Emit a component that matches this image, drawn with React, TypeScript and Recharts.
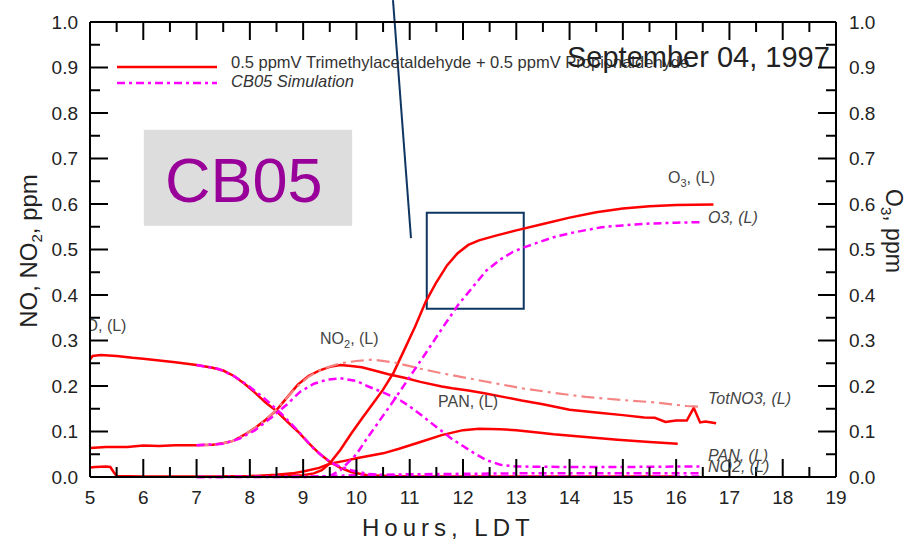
import React from 'react';
import { LineChart, Line, XAxis, YAxis, ReferenceArea, ReferenceLine } from 'recharts';

type Pt = [number, number];

// ---- Measured (red, solid) ----
const O3_MEAS: Pt[] = [
  [5, 0.021], [5.1, 0.022], [5.3, 0.023], [5.38, 0.022], [5.45, 0.01], [5.5, 0.002], [6, 0.001], [7, 0.001],
  [8, 0.001], [8.5, 0.002], [9, 0.004], [9.2, 0.008], [9.35, 0.015], [9.5, 0.03], [9.7, 0.06], [9.9, 0.095],
  [10.1, 0.128], [10.3, 0.16], [10.5, 0.192], [10.7, 0.23], [10.9, 0.28], [11.1, 0.33], [11.3, 0.385],
  [11.5, 0.428], [11.7, 0.465], [11.9, 0.492], [12.1, 0.51], [12.3, 0.52], [12.6, 0.53], [13, 0.542],
  [13.5, 0.556], [14, 0.57], [14.5, 0.582], [15, 0.59], [15.5, 0.595], [16, 0.598], [16.7, 0.599],
];
const NO_MEAS: Pt[] = [
  [5, 0.258], [5.05, 0.266], [5.2, 0.268], [5.5, 0.266], [5.8, 0.262], [6, 0.26], [6.3, 0.256], [6.6, 0.252],
  [7, 0.246], [7.3, 0.24], [7.5, 0.234], [7.7, 0.222], [7.9, 0.205], [8.1, 0.185], [8.3, 0.163], [8.5, 0.145],
  [8.7, 0.122], [8.9, 0.1], [9.1, 0.075], [9.3, 0.052], [9.5, 0.033], [9.7, 0.02], [9.9, 0.011], [10.2, 0.004],
  [10.6, 0.002], [11, 0.001], [12, 0.001], [13, 0.001], [14, 0.001], [15, 0.001], [16, 0.001],
];
const NO2_MEAS: Pt[] = [
  [5, 0.064], [5.3, 0.066], [5.7, 0.066], [6, 0.069], [6.3, 0.068], [6.6, 0.07], [7, 0.07], [7.3, 0.071],
  [7.5, 0.074], [7.7, 0.08], [7.9, 0.093], [8.1, 0.108], [8.3, 0.126], [8.5, 0.147], [8.7, 0.175], [8.9, 0.203],
  [9.1, 0.222], [9.3, 0.234], [9.5, 0.242], [9.7, 0.246], [9.9, 0.244], [10.1, 0.241], [10.3, 0.235],
  [10.6, 0.226], [10.9, 0.218], [11.2, 0.209], [11.6, 0.199], [11.8, 0.195], [12.1, 0.19], [12.4, 0.184],
  [12.8, 0.175], [13.1, 0.168], [13.5, 0.16], [14, 0.148], [14.5, 0.142], [15, 0.136], [15.4, 0.131],
  [15.6, 0.13], [15.8, 0.121], [16, 0.124], [16.2, 0.124], [16.33, 0.152], [16.45, 0.12], [16.55, 0.122],
  [16.75, 0.118],
];
const PAN_MEAS: Pt[] = [
  [7.5, 0.001], [8, 0.002], [8.5, 0.005], [8.8, 0.008], [9, 0.012], [9.3, 0.02], [9.5, 0.029], [9.8, 0.036],
  [10, 0.041], [10.5, 0.052], [10.8, 0.062], [11.2, 0.077], [11.6, 0.092], [12, 0.103], [12.3, 0.106],
  [12.7, 0.105], [13, 0.103], [13.4, 0.098], [13.7, 0.094], [14.3, 0.088], [14.9, 0.082], [15.5, 0.077],
  [16.03, 0.073],
];

// ---- Simulation ----
const TOTNO3_SIM: Pt[] = [
  [7, 0.07], [7.3, 0.071], [7.5, 0.074], [7.7, 0.08], [7.9, 0.093], [8.1, 0.108], [8.3, 0.126], [8.5, 0.148],
  [8.7, 0.175], [8.9, 0.2], [9.1, 0.22], [9.3, 0.234], [9.5, 0.243], [9.7, 0.25], [10, 0.255], [10.3, 0.258],
  [10.7, 0.252], [11.2, 0.238], [11.6, 0.228], [12.1, 0.217], [12.6, 0.206], [13.1, 0.195], [13.7, 0.185],
  [14.3, 0.176], [15, 0.169], [15.6, 0.164], [16.2, 0.156], [16.5, 0.154],
];
const NO_SIM: Pt[] = [
  [7, 0.246], [7.4, 0.238], [7.7, 0.222], [8, 0.198], [8.3, 0.17], [8.6, 0.138], [8.9, 0.102], [9.2, 0.062],
  [9.4, 0.042], [9.6, 0.027], [9.9, 0.015], [10.2, 0.007], [10.6, 0.003], [11, 0.002], [12, 0.001],
  [13, 0.001], [14, 0.001], [15, 0.001], [16, 0.001], [16.5, 0.001],
];
const NO2_SIM: Pt[] = [
  [7, 0.07], [7.5, 0.073], [7.8, 0.084], [8.1, 0.103], [8.4, 0.13], [8.7, 0.16], [8.94, 0.187], [9.2, 0.205],
  [9.45, 0.214], [9.7, 0.217], [10, 0.211], [10.2, 0.2], [10.5, 0.186], [10.82, 0.169], [11, 0.155],
  [11.25, 0.133], [11.5, 0.11], [11.8, 0.083], [12, 0.068], [12.2, 0.053], [12.44, 0.037], [12.7, 0.027],
  [13, 0.023], [14, 0.022], [15, 0.022], [16, 0.023], [16.5, 0.023],
];
const PAN_SIM: Pt[] = [
  [7, 0], [9, 0.001], [9.5, 0.002], [10, 0.004], [10.5, 0.005], [11, 0.006], [12, 0.007], [13, 0.008],
  [14, 0.008], [15, 0.008], [16, 0.008], [16.5, 0.008],
];
const O3_SIM: Pt[] = [
  [7, 0], [8, 0], [9, 0], [9.5, 0.002], [9.7, 0.015], [10, 0.05], [10.2, 0.085], [10.44, 0.125], [10.7, 0.168],
  [11, 0.22], [11.3, 0.272], [11.6, 0.325], [11.9, 0.377], [12.2, 0.42], [12.44, 0.454], [12.7, 0.478],
  [12.94, 0.495], [13.2, 0.507], [13.7, 0.527], [14.1, 0.538], [14.6, 0.549], [15, 0.553], [15.5, 0.557],
  [16, 0.559], [16.45, 0.56],
];

// ---- Ticks ----
const X_TICKS = [5, 5.5, 6, 6.5, 7, 7.5, 8, 8.5, 9, 9.5, 10, 10.5, 11, 11.5, 12, 12.5, 13, 13.5, 14, 14.5, 15, 15.5, 16, 16.5, 17, 17.5, 18, 18.5, 19];
const Y_TICKS = [0, 0.05, 0.1, 0.15, 0.2, 0.25, 0.3, 0.35, 0.4, 0.45, 0.5, 0.55, 0.6, 0.65, 0.7, 0.75, 0.8, 0.85, 0.9, 0.95, 1.0];

// ---- Annotations (data coordinates) ----
const CB05_BOX = { x1: 6.01, x2: 9.92, y1: 0.552, y2: 0.763 };
const ZOOM_BOX = { x1: 11.32, x2: 13.14, y1: 0.37, y2: 0.581 };
const POINTER: { x: number; y: number }[] = [{ x: 10.686, y: 1.048 }, { x: 11.024, y: 0.525 }];

const FONT = '"Liberation Sans", Arial, Helvetica, sans-serif';
const RED = '#ff0000';
const MAGENTA = '#ff00ff';
const PINK = '#f58585';
const NAVY = '#0f3562';
const SIM_DASH = '8 4 3 4';
const TICK_FS = 19;

const toData = (pts: Pt[]) => pts.map(([x, y]) => ({ x, y }));
const isMajor = (v: number, step: number) => Math.abs(v / step - Math.round(v / step)) < 1e-6;

const MAJ = 18;
const MIN = 10;

function BottomTick(props: any) {
  const { x, y, payload } = props;
  const v = payload.value as number;
  const major = isMajor(v, 1);
  return (
    <g>
      <line x1={x} x2={x} y1={y} y2={y - (major ? MAJ : MIN)} stroke="#000" strokeWidth={2} />
      {major && (
        <text x={x} y={y + 27} textAnchor="middle" fontSize={TICK_FS} fill="#222" fontFamily={FONT}>
          {String(v)}
        </text>
      )}
    </g>
  );
}
function TopTick(props: any) {
  const { x, y, payload } = props;
  const major = isMajor(payload.value, 1);
  return <line x1={x} x2={x} y1={y} y2={y + (major ? MAJ : MIN)} stroke="#000" strokeWidth={2} />;
}
function LeftTick(props: any) {
  const { x, y, payload } = props;
  const v = payload.value as number;
  const major = isMajor(v, 0.1);
  return (
    <g>
      <line x1={x} x2={x + (major ? MAJ : MIN)} y1={y} y2={y} stroke="#000" strokeWidth={2} />
      {major && (
        <text x={x - 12} y={y} dy="0.36em" textAnchor="end" fontSize={TICK_FS} fill="#222" fontFamily={FONT}>
          {v.toFixed(1)}
        </text>
      )}
    </g>
  );
}
function RightTick(props: any) {
  const { x, y, payload } = props;
  const v = payload.value as number;
  const major = isMajor(v, 0.1);
  return (
    <g>
      <line x1={x} x2={x - (major ? MAJ : MIN)} y1={y} y2={y} stroke="#000" strokeWidth={2} />
      {major && (
        <text x={x + 13} y={y} dy="0.36em" textAnchor="start" fontSize={TICK_FS} fill="#222" fontFamily={FONT}>
          {v.toFixed(1)}
        </text>
      )}
    </g>
  );
}

const axisLine = { stroke: '#000', strokeWidth: 2 };

export default function App() {
  const base = {
    dataKey: 'y',
    dot: false,
    activeDot: false,
    isAnimationActive: false,
    type: 'linear' as const,
  };
  const left = { ...base, xAxisId: 'b', yAxisId: 'l' };
  // ozone is read on the right-hand axis (same 0–1 scale)
  const right = { ...base, xAxisId: 't', yAxisId: 'r' };
  const sub = (t: string, size = 11, d = 4) => [
    <tspan key="s" fontSize={size} dy={d}>{t}</tspan>,
  ];
  return (
    <div style={{ position: 'absolute', left: 0, top: 0, width: 909, height: 540, background: '#fff' }}>
      <LineChart width={909} height={540} margin={{ top: 0, right: 0, bottom: 0, left: 0 }}>
        <XAxis
          xAxisId="b"
          dataKey="x"
          type="number"
          domain={[5, 19]}
          ticks={X_TICKS}
          interval={0}
          height={63}
          tickSize={0}
          tickMargin={0}
          tickLine={false}
          axisLine={axisLine}
          tick={<BottomTick />}
        />
        <XAxis
          xAxisId="t"
          orientation="top"
          dataKey="x"
          type="number"
          domain={[5, 19]}
          ticks={X_TICKS}
          interval={0}
          height={22}
          tickSize={0}
          tickMargin={0}
          tickLine={false}
          axisLine={axisLine}
          tick={<TopTick />}
        />
        <YAxis
          yAxisId="l"
          type="number"
          domain={[0, 1]}
          ticks={Y_TICKS}
          interval={0}
          width={90}
          tickSize={0}
          tickMargin={0}
          tickLine={false}
          axisLine={axisLine}
          tick={<LeftTick />}
        />
        <YAxis
          yAxisId="r"
          orientation="right"
          type="number"
          domain={[0, 1]}
          ticks={Y_TICKS}
          interval={0}
          width={73}
          tickSize={0}
          tickMargin={0}
          tickLine={false}
          axisLine={axisLine}
          tick={<RightTick />}
        />

        <ReferenceArea
          xAxisId="b"
          yAxisId="l"
          x1={CB05_BOX.x1}
          x2={CB05_BOX.x2}
          y1={CB05_BOX.y1}
          y2={CB05_BOX.y2}
          fill="#dddddd"
          fillOpacity={1}
          stroke="none"
          ifOverflow="visible"
        />

        <Line {...right} data={toData(O3_MEAS)} stroke={RED} strokeWidth={2.5} />
        <Line {...left} data={toData(NO_MEAS)} stroke={RED} strokeWidth={2.5} />
        <Line {...left} data={toData(NO2_MEAS)} stroke={RED} strokeWidth={2.5} />
        <Line {...left} data={toData(PAN_MEAS)} stroke={RED} strokeWidth={2.5} />
        <Line {...left} data={toData(TOTNO3_SIM)} stroke={PINK} strokeWidth={2.2} strokeDasharray="13 5 3 5" />
        <Line {...left} data={toData(NO_SIM)} stroke={MAGENTA} strokeWidth={2.5} strokeDasharray={SIM_DASH} />
        <Line {...left} data={toData(NO2_SIM)} stroke={MAGENTA} strokeWidth={2.5} strokeDasharray={SIM_DASH} />
        <Line {...left} data={toData(PAN_SIM)} stroke={MAGENTA} strokeWidth={2.5} strokeDasharray={SIM_DASH} />
        <Line {...right} data={toData(O3_SIM)} stroke={MAGENTA} strokeWidth={2.5} strokeDasharray={SIM_DASH} />

        <ReferenceArea
          xAxisId="b"
          yAxisId="l"
          x1={ZOOM_BOX.x1}
          x2={ZOOM_BOX.x2}
          y1={ZOOM_BOX.y1}
          y2={ZOOM_BOX.y2}
          fill="none"
          fillOpacity={0}
          stroke={NAVY}
          strokeWidth={2}
          strokeOpacity={1}
          ifOverflow="visible"
        />
        <ReferenceLine
          xAxisId="b"
          yAxisId="l"
          segment={POINTER}
          stroke={NAVY}
          strokeWidth={2}
          ifOverflow="visible"
        />
      </LineChart>

      <svg
        width={909}
        height={540}
        style={{ position: 'absolute', left: 0, top: 0, pointerEvents: 'none' }}
        fontFamily={FONT}
      >
        <defs>
          <clipPath id="plotClip">
            <rect x={91} y={22} width={745} height={455} />
          </clipPath>
        </defs>

        {/* CB05 label */}
        <text x={165} y={202} fontSize={63} fill="#990099">CB05</text>

        {/* legend */}
        <line x1={117} x2={217} y1={67} y2={67} stroke={RED} strokeWidth={2.5} />
        <line x1={117} x2={217} y1={83} y2={83} stroke={MAGENTA} strokeWidth={2.5} strokeDasharray={SIM_DASH} />
        <text x={231} y={68} fontSize={16.5} fill="#333">
          0.5 ppmV Trimethylacetaldehyde + 0.5 ppmV Propionaldehyde
        </text>
        <text x={231} y={87} fontSize={16.5} fill="#333" fontStyle="italic">CB05 Simulation</text>

        <text x={567} y={67} fontSize={29} fill="#222">September 04, 1997</text>

        {/* series labels */}
        <text x={668} y={183} fontSize={16} fill="#444">
          O{sub('3')}<tspan dy={-4}>, (L)</tspan>
        </text>
        <text x={708} y={223} fontSize={16} fill="#444" fontStyle="italic">O3, (L)</text>
        <text x={320} y={344} fontSize={16} fill="#444">
          NO{sub('2')}<tspan dy={-4}>, (L)</tspan>
        </text>
        <text x={438} y={407} fontSize={16} fill="#444">PAN, (L)</text>
        <text x={708} y={404} fontSize={16} fill="#444" fontStyle="italic">TotNO3, (L)</text>
        <text x={708} y={461} fontSize={16} fill="#444" fontStyle="italic">PAN, (L)</text>
        <text x={708} y={472} fontSize={16} fill="#444" fontStyle="italic">NO2, (L)</text>
        <g clipPath="url(#plotClip)">
          <text x={74} y={331} fontSize={16} fill="#444">NO, (L)</text>
        </g>

        {/* axis titles */}
        <text x={37} y={251} transform="rotate(-90 37 251)" textAnchor="middle" fontSize={24} fill="#222">
          NO, NO{sub('2', 15, 5)}<tspan dy={-5}>, ppm</tspan>
        </text>
        <text x={886} y={231} transform="rotate(90 886 231)" textAnchor="middle" fontSize={23} fill="#222">
          O{sub('3', 15, 5)}<tspan dy={-5}>, ppm</tspan>
        </text>
        <text x={362} y={536} fontSize={24} fill="#222" letterSpacing={5}>Hours, LDT</text>
      </svg>
    </div>
  );
}
